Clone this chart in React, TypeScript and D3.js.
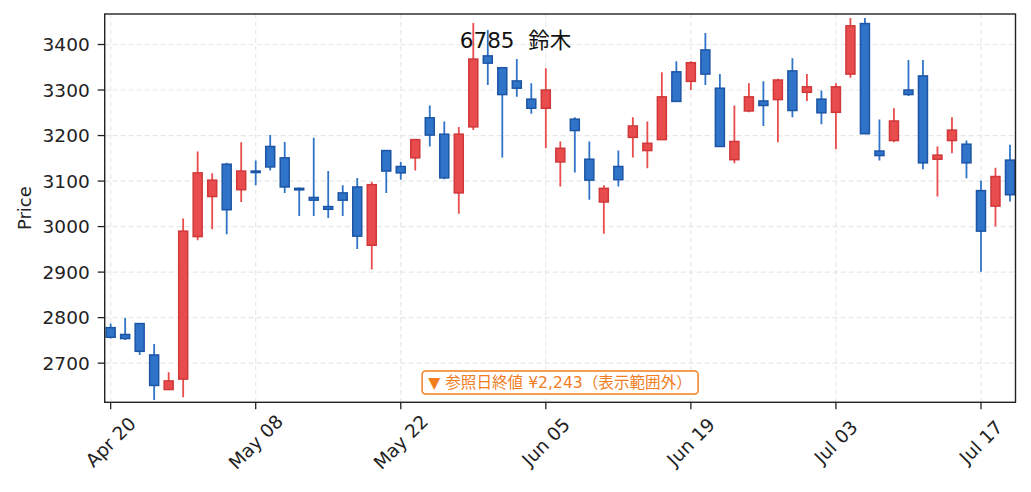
import React from "react";
import * as d3 from "d3";

const dates: string[] = [
  "2020-04-20","2020-04-21","2020-04-22","2020-04-23","2020-04-24","2020-04-27","2020-04-28","2020-04-30",
  "2020-05-01","2020-05-07","2020-05-08","2020-05-11","2020-05-12","2020-05-13","2020-05-14","2020-05-15",
  "2020-05-18","2020-05-19","2020-05-20","2020-05-21","2020-05-22","2020-05-25","2020-05-26","2020-05-27",
  "2020-05-28","2020-05-29","2020-06-01","2020-06-02","2020-06-03","2020-06-04","2020-06-05","2020-06-08",
  "2020-06-09","2020-06-10","2020-06-11","2020-06-12","2020-06-15","2020-06-16","2020-06-17","2020-06-18",
  "2020-06-19","2020-06-22","2020-06-23","2020-06-24","2020-06-25","2020-06-26","2020-06-29","2020-06-30",
  "2020-07-01","2020-07-02","2020-07-03","2020-07-06","2020-07-07","2020-07-08","2020-07-09","2020-07-10",
  "2020-07-13","2020-07-14","2020-07-15","2020-07-16","2020-07-17","2020-07-20","2020-07-21",
];

const opens: number[] = [
  2778, 2763, 2787, 2718, 2642, 2665, 2978, 3066, 3137, 3081,
  3122, 3176, 3151, 3084, 3064, 3044, 3074, 3087, 2959, 3167,
  3132, 3151, 3239, 3203, 3074, 3219, 3375, 3349, 3320, 3280,
  3260, 3142, 3236, 3148, 3054, 3132, 3196, 3167, 3191, 3340,
  3319, 3388, 3304, 3147, 3254, 3276, 3279, 3342, 3295, 3280,
  3251, 3335, 3446, 3166, 3189, 3300, 3331, 3148, 3189, 3181,
  3079, 3045, 3146,
];
const highs: number[] = [
  2787, 2799, 2788, 2742, 2680, 3018, 3165, 3117, 3140, 3185,
  3145, 3201, 3186, 3086, 3195, 3122, 3091, 3107, 3098, 3167,
  3142, 3192, 3266, 3231, 3219, 3447, 3432, 3350, 3368, 3315,
  3348, 3187, 3240, 3187, 3091, 3167, 3240, 3231, 3339, 3363,
  3363, 3425, 3335, 3266, 3315, 3319, 3325, 3370, 3335, 3299,
  3315, 3458, 3458, 3235, 3260, 3366, 3366, 3176, 3240, 3189,
  3101, 3129, 3180,
];
const lows: number[] = [
  2754, 2751, 2718, 2619, 2641, 2625, 2970, 2994, 2983, 3054,
  3091, 3123, 3074, 3023, 3023, 3019, 3023, 2951, 2906, 3074,
  3103, 3123, 3176, 3104, 3028, 3212, 3311, 3152, 3285, 3248,
  3172, 3088, 3119, 3059, 2984, 3088, 3152, 3128, 3190, 3274,
  3300, 3311, 3175, 3139, 3251, 3221, 3185, 3240, 3276, 3225,
  3170, 3327, 3204, 3145, 3185, 3287, 3126, 3066, 3161, 3106,
  2901, 3000, 3055,
];
const closes: number[] = [
  2757, 2754, 2726, 2651, 2661, 2990, 3118, 3102, 3037, 3122,
  3120, 3131, 3087, 3082, 3058, 3038, 3058, 2979, 3092, 3122,
  3118, 3191, 3201, 3107, 3203, 3368, 3359, 3290, 3304, 3260,
  3300, 3172, 3211, 3102, 3084, 3103, 3221, 3183, 3285, 3275,
  3360, 3335, 3176, 3187, 3285, 3266, 3322, 3255, 3307, 3250,
  3307, 3441, 3204, 3156, 3232, 3290, 3140, 3157, 3212, 3140,
  2990, 3110, 3070,
];

const yTicks: number[] = [2700, 2800, 2900, 3000, 3100, 3200, 3300, 3400];
const xTickIdx: number[] = [0, 10, 20, 30, 40, 50, 60];
const titleText = "6785  鈴木";
const yLabel = "Price";
const noteText = "▼ 参照日終値 ¥2,243（表示範囲外）";

const W = 1031;
const H = 492;
const L = 104.7, R = 1015.5, T = 14, B = 402.3;

const FONT = "'DejaVu Sans', 'Noto Sans CJK JP', sans-serif";
const UP_FILL = "#e84c4c", UP_EDGE = "#d0383a";
const DN_FILL = "#2f74c8", DN_EDGE = "#1d55a5";
const ORANGE = "#f27d1e";

export default function App() {
  const x = d3.scaleLinear().domain([-0.41, 62.38]).range([L, R]);
  const y = d3.scaleLinear().domain([2614, 3467]).range([B, T]);
  const parse = d3.timeParse("%Y-%m-%d");
  const fmt = d3.timeFormat("%b %d");
  const step = x(1) - x(0);
  const bw = step * 0.62;

  const candles = dates.map((d, i) => ({
    i, o: opens[i], h: highs[i], l: lows[i], c: closes[i],
  }));

  return (
    <svg width={W} height={H} style={{ position: "absolute", left: 0, top: 0, background: "#fff" }}
      fontFamily={FONT}>
      <rect x={0} y={0} width={W} height={H} fill="#fff" />
      <defs>
        <clipPath id="plot">
          <rect x={L} y={T} width={R - L} height={B - T} />
        </clipPath>
      </defs>
      {/* grid */}
      <g stroke="#e8e8e8" strokeWidth={1.2} strokeDasharray="5,3">
        {yTicks.map((t) => (
          <line key={"gy" + t} x1={L} x2={R} y1={y(t)} y2={y(t)} />
        ))}
        {xTickIdx.map((t) => (
          <line key={"gx" + t} x1={x(t)} x2={x(t)} y1={T} y2={B} />
        ))}
      </g>
      {/* candles */}
      <g clipPath="url(#plot)">
        {candles.map((k) => {
          const up = k.c >= k.o;
          const top = y(Math.max(k.o, k.c));
          const bot = y(Math.min(k.o, k.c));
          const cx = x(k.i);
          return (
            <g key={k.i}>
              <line x1={cx} x2={cx} y1={y(k.h)} y2={y(k.l)}
                stroke={up ? UP_FILL : DN_FILL} strokeWidth={1.8} />
              <rect x={cx - bw / 2} y={top} width={bw} height={Math.max(bot - top, 1.5)}
                fill={up ? UP_FILL : DN_FILL} stroke={up ? UP_EDGE : DN_EDGE} strokeWidth={1.5} />
            </g>
          );
        })}
      </g>
      {/* spines */}
      <rect x={L} y={T} width={R - L} height={B - T} fill="none" stroke="#222" strokeWidth={1.4} />
      {/* y axis */}
      {yTicks.map((t) => (
        <g key={"yt" + t}>
          <line x1={L - 7} x2={L} y1={y(t)} y2={y(t)} stroke="#222" strokeWidth={1.3} />
          <text x={L - 15} y={y(t)} textAnchor="end" dominantBaseline="central" fontSize={18.5} fill="#222">
            {t}
          </text>
        </g>
      ))}
      <text transform={`translate(24.5,${(T + B) / 2}) rotate(-90)`} textAnchor="middle"
        dominantBaseline="central" fontSize={18} fill="#222">{yLabel}</text>
      {/* x axis */}
      {xTickIdx.map((t) => (
        <g key={"xt" + t}>
          <line x1={x(t)} x2={x(t)} y1={B} y2={B + 7} stroke="#222" strokeWidth={1.3} />
          <text transform={`translate(${x(t)},442) rotate(-45)`} textAnchor="middle"
            dominantBaseline="central" fontSize={18.5} fill="#222">
            {fmt(parse(dates[t]) as Date)}
          </text>
        </g>
      ))}
      {/* title */}
      <text x={W / 2} y={48} textAnchor="middle" fontSize={21.5} fill="#111"
        style={{ whiteSpace: "pre" }}>{titleText}</text>
      {/* note */}
      <g>
        <rect x={(L + R) / 2 - 138} y={371} width={276} height={23} rx={3.5}
          fill="#fff" stroke={ORANGE} strokeWidth={1.5} />
        <text x={(L + R) / 2} y={382.8} textAnchor="middle" dominantBaseline="central"
          fontSize={15.6} fill={ORANGE}>{noteText}</text>
      </g>
    </svg>
  );
}
